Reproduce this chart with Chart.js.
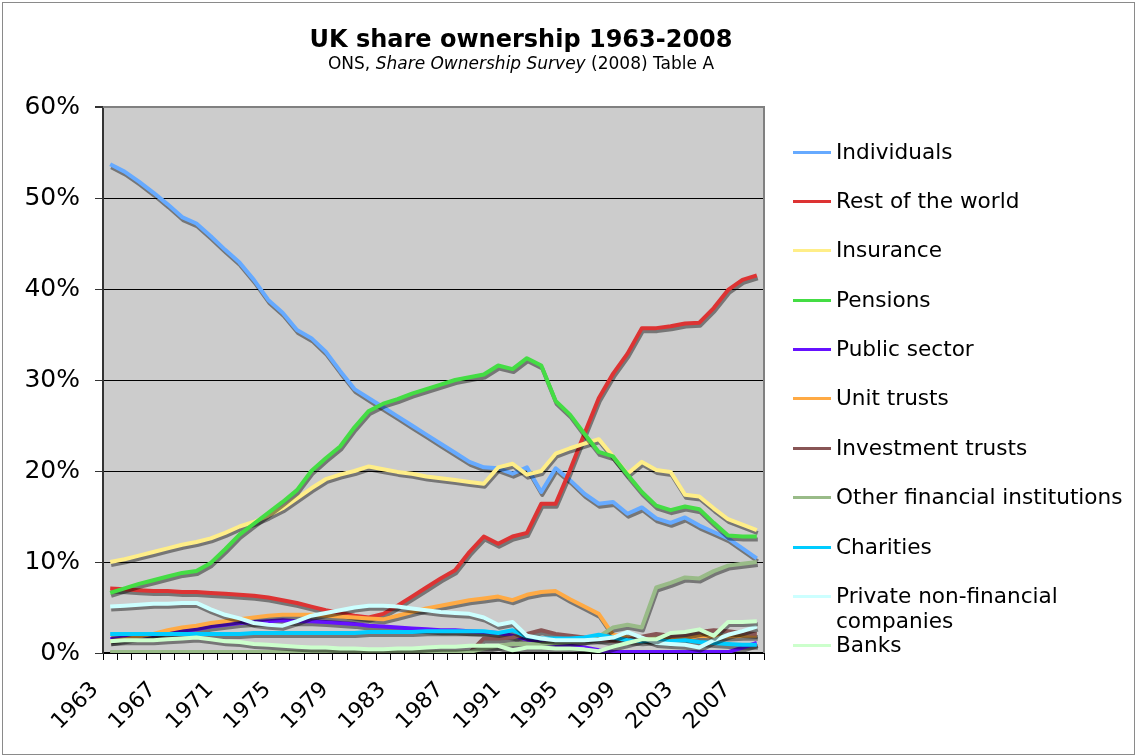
<!DOCTYPE html>
<html>
<head>
<meta charset="utf-8">
<script src="https://cdn.jsdelivr.net/npm/chart.js@4/dist/chart.umd.min.js"></script>
<style>
  body { margin: 0; background: #fff; font-family: "DejaVu Sans", Verdana, sans-serif; }
  #wrap { position: relative; width: 1139px; height: 756px; overflow: hidden; }
  #frame { position: absolute; left: 2px; top: 2px; width: 1131px; height: 751px; border: 1px solid #8a8a8a; pointer-events: none; }
  canvas { position: absolute; left: 0; top: 0; }
  .title { position: absolute; left: 221px; width: 600px; top: 25px; text-align: center; font-weight: bold; font-size: 24px; line-height: 28px; }
  .sub { position: absolute; left: 221px; width: 600px; top: 53px; text-align: center; font-size: 17px; line-height: 20px; }
  .leg { position: absolute; left: 793px; height: 25px; font-size: 21.6px; line-height: 25px; }
  .leg i { position: absolute; left: 0; top: 12px; width: 38px; height: 3px; }
  .leg span { position: absolute; left: 43px; top: 0; white-space: pre; }
</style>
</head>
<body>
<div id="wrap">
  <canvas id="shareChart" width="1139" height="756"></canvas>
  <div class="title">UK share ownership 1963-2008</div>
  <div class="sub">ONS, <i>Share Ownership Survey</i> (2008) Table A</div>
  <div id="legend"></div>
  <div id="frame"></div>
</div>
<script>
const years = ['1963','1964','1965','1966','1967','1968','1969','1970','1971','1972',
  '1973','1974','1975','1976','1977','1978','1979','1980','1981','1982',
  '1983','1984','1985','1986','1987','1988','1989','1990','1991','1992',
  '1993','1994','1995','1996','1997','1998','1999','2000','2001','2002',
  '2003','2004','2005','2006','2007','2008'];

const individuals = [53.7,52.9,51.8,50.6,49.3,47.9,47.2,45.8,44.3,42.9,
  41.0,38.8,37.4,35.5,34.6,33.1,31.0,29.0,28.0,27.0,
  26.0,25.0,24.0,23.0,22.0,21.0,20.4,20.3,19.7,20.4,
  17.7,20.3,19.0,17.5,16.4,16.6,15.3,16.0,14.8,14.3,
  14.9,14.0,13.3,12.6,11.5,10.4];
const restOfWorld = [7.1,7.0,6.9,6.8,6.8,6.7,6.7,6.6,6.5,6.4,
  6.3,6.1,5.8,5.5,5.1,4.7,4.4,4.1,3.9,4.3,
  5.2,6.2,7.2,8.2,9.1,11.1,12.8,12.0,12.8,13.2,
  16.4,16.4,20.1,24.1,28.0,30.7,32.9,35.7,35.7,35.9,
  36.2,36.3,37.9,39.9,41.0,41.5];
const insurance = [10.0,10.3,10.7,11.1,11.5,11.9,12.2,12.6,13.2,13.9,
  14.4,15.1,15.9,17.0,18.1,19.1,19.6,20.0,20.5,20.2,
  19.9,19.7,19.4,19.2,19.0,18.8,18.6,20.4,20.8,19.6,
  20.0,21.9,22.5,23.0,23.5,21.6,19.7,21.0,20.1,19.9,
  17.4,17.2,15.9,14.7,14.1,13.5];
const pensions = [6.6,7.1,7.6,8.0,8.4,8.8,9.0,9.9,11.4,13.0,
  14.2,15.4,16.6,17.9,20.0,21.4,22.7,24.8,26.6,27.4,
  27.9,28.5,29.0,29.5,30.0,30.3,30.6,31.6,31.2,32.4,
  31.6,27.7,26.2,24.1,22.1,21.6,19.6,17.7,16.2,15.7,
  16.1,15.8,14.3,12.9,12.8,12.8];
const publicSector = [1.5,1.7,1.8,2.0,2.2,2.4,2.6,2.9,3.1,3.3,
  3.4,3.5,3.6,3.5,3.5,3.4,3.3,3.2,3.0,2.9,
  2.8,2.7,2.6,2.5,2.5,2.4,2.3,2.2,1.9,1.5,
  1.1,0.9,0.8,0.6,0.3,0.1,0.1,0.1,0.1,0.1,
  0.1,0.1,0.1,0.1,0.6,1.1];
const unitTrusts = [1.3,1.5,1.8,2.1,2.5,2.8,3.0,3.3,3.5,3.7,
  3.9,4.1,4.2,4.2,4.2,4.1,4.0,3.9,3.8,3.7,
  4.1,4.5,4.9,5.2,5.5,5.8,6.0,6.2,5.8,6.4,
  6.7,6.8,5.9,5.1,4.3,2.0,1.7,1.6,1.6,1.5,
  1.6,1.9,1.8,1.8,1.9,1.9];
const investmentTrusts = [0,0,0,0,0,0,0,0,0,0,
  0,0,0,0,0,0,0,0,0,0,
  0,0,0,0,0,0,1.6,1.6,1.7,2.1,
  2.5,2.1,1.9,1.7,1.5,1.3,1.5,1.8,2.1,1.9,
  2.0,2.3,2.5,2.4,2.2,2.1];
const otherFinancial = [0.1,0.1,0.1,0.1,0.1,0.1,0.1,0.1,0.1,0.1,
  0.1,0.1,0.1,0.1,0.1,0.1,0.1,0.1,0.1,0.1,
  0.1,0.1,0.1,0.1,0.1,0.1,0.5,0.8,1.0,1.0,
  1.0,1.1,1.2,1.4,1.8,2.8,3.1,2.8,7.2,7.7,
  8.3,8.2,9.0,9.6,9.8,10.0];
const charities = [2.1,2.1,2.1,2.1,2.1,2.1,2.1,2.1,2.1,2.1,
  2.2,2.2,2.2,2.2,2.2,2.2,2.2,2.2,2.3,2.3,
  2.3,2.3,2.4,2.4,2.4,2.4,2.4,2.2,2.5,1.8,
  1.6,1.6,1.6,1.7,2.0,1.7,1.4,1.3,1.4,1.3,
  1.4,1.2,1.1,1.0,0.9,0.9];
const privateNonFinancial = [5.1,5.2,5.3,5.4,5.4,5.5,5.5,4.8,4.2,3.8,
  3.3,3.1,3.0,3.5,4.1,4.4,4.7,5.0,5.2,5.2,
  5.1,4.9,4.7,4.5,4.4,4.3,3.9,3.1,3.4,1.9,
  1.6,1.4,1.4,1.4,1.5,1.7,2.3,1.7,1.1,1.0,
  0.9,0.6,1.4,2.0,2.4,2.9];
const banks = [1.3,1.4,1.4,1.4,1.5,1.6,1.7,1.5,1.3,1.2,
  1.0,0.9,0.8,0.7,0.6,0.6,0.5,0.5,0.4,0.4,
  0.5,0.5,0.6,0.7,0.7,0.8,0.8,0.8,0.3,0.6,
  0.6,0.5,0.5,0.4,0.2,0.7,1.1,1.5,1.5,2.2,
  2.3,2.6,1.9,3.4,3.4,3.5];

const seriesNames = ['Individuals', 'Rest of the world', 'Insurance', 'Pensions', 'Public sector',
  'Unit trusts', 'Investment trusts', 'Other financial institutions', 'Charities',
  'Private non-financial\ncompanies', 'Banks'];
const seriesData = [individuals, restOfWorld, insurance, pensions, publicSector,
  unitTrusts, investmentTrusts, otherFinancial, charities, privateNonFinancial, banks];
const seriesColors = ['#66aaff', '#dd3333', '#ffee88', '#44dd44', '#6611ff',
  '#ffaa44', '#885555', '#99bb88', '#00ccff', '#ccffff', '#ccffcc'];
const legendY = [152, 201, 250, 300, 349, 398, 448, 497, 547, 596, 645];

// html legend on the right
const legend = document.getElementById('legend');
seriesNames.forEach((name, i) => {
  const item = document.createElement('div');
  item.className = 'leg';
  item.style.top = (legendY[i] - 13) + 'px';
  item.innerHTML = '<i style="background:' + seriesColors[i] + '"></i><span></span>';
  item.querySelector('span').textContent = name;
  legend.appendChild(item);
});

const plotBackground = {
  id: 'plotBackground',
  beforeDraw(chart) {
    const { ctx, chartArea: a } = chart;
    ctx.save();
    ctx.fillStyle = '#cccccc';
    ctx.fillRect(a.left, a.top, a.right - a.left, a.bottom - a.top);
    ctx.restore();
  },
  beforeDatasetsDraw(chart) {
    const { ctx, chartArea: a } = chart;
    ctx.save();
    ctx.strokeStyle = '#808080';
    ctx.lineWidth = 2;
    ctx.beginPath();
    ctx.moveTo(a.left, a.top);
    ctx.lineTo(a.right, a.top);
    ctx.lineTo(a.right, a.bottom);
    ctx.stroke();
    ctx.restore();
  }
};

// grey drop shadow under every line, like the spreadsheet original
const lineShadow = {
  id: 'lineShadow',
  beforeDatasetDraw(chart) {
    const ctx = chart.ctx;
    ctx.save();
    ctx.shadowColor = 'rgba(0,0,0,0.42)';
    ctx.shadowOffsetX = 1;
    ctx.shadowOffsetY = 3;
    ctx.shadowBlur = 0;
  },
  afterDatasetDraw(chart) {
    chart.ctx.restore();
  }
};

const font = 'DejaVu Sans';
const ctx = document.getElementById('shareChart').getContext('2d');
new Chart(ctx, {
  type: 'line',
  data: {
    labels: years,
    datasets: seriesNames.map((name, i) => ({
      label: name,
      data: seriesData[i],
      borderColor: seriesColors[i],
      backgroundColor: seriesColors[i],
      borderWidth: 4,
      borderJoinStyle: 'round',
      pointRadius: 0,
      tension: 0,
      fill: false,
      order: seriesNames.length - i,
      clip: { left: 5, top: 5, right: 5, bottom: 0 }
    }))
  },
  options: {
    responsive: false,
    animation: false,
    devicePixelRatio: 1,
    layout: { padding: { left: 0, right: 375, top: 107, bottom: 0 } },
    plugins: { legend: { display: false }, tooltip: { enabled: false } },
    scales: {
      x: {
        offset: true,
        grid: { offset: true, drawOnChartArea: false, tickLength: 7, color: '#000', tickColor: '#000' },
        border: { color: '#000', width: 2 },
        ticks: {
          autoSkip: false, maxRotation: 45, minRotation: 45, padding: 17, labelOffset: -15,
          color: '#000', font: { family: font, size: 22 },
          callback: (v, i) => (i % 4 === 0 ? years[i] : '')
        },
        afterFit(s) { s.height = 103; }
      },
      y: {
        min: 0, max: 60,
        grid: {
          color: c => (c.tick && c.tick.value === 60 ? '#808080' : '#000'),
          lineWidth: c => (c.tick && c.tick.value === 60 ? 2 : 1),
          tickLength: 8, tickColor: '#333'
        },
        border: { color: '#333', width: 2 },
        ticks: {
          stepSize: 10, padding: 15, color: '#000', font: { family: font, size: 25 },
          callback: v => v + '%'
        },
        afterFit(s) { s.width = 103; }
      }
    }
  },
  plugins: [plotBackground, lineShadow]
});
</script>
</body>
</html>
